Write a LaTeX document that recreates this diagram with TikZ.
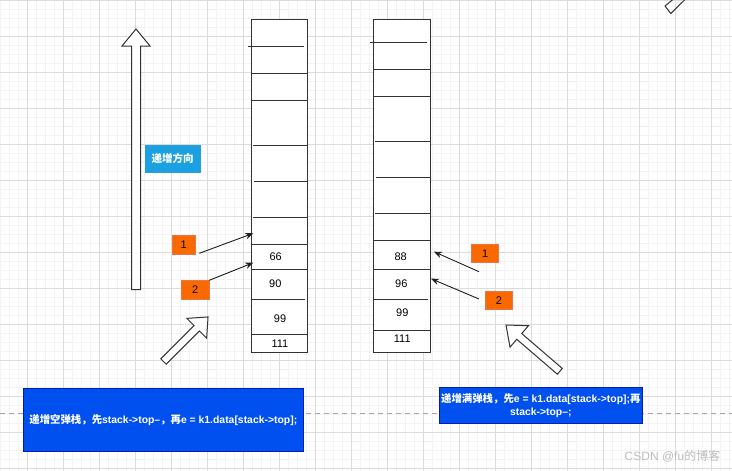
\documentclass[tikz,border=0pt]{standalone}
\usepackage{fontspec}
\setmainfont{Liberation Sans}
\newfontfamily\cjk{Noto Sans CJK SC}
\usetikzlibrary{arrows.meta}

\definecolor{gridmajor}{HTML}{DCDCDC}
\definecolor{gridminor}{HTML}{F3F3F3}
\definecolor{stackgray}{HTML}{333333}
\definecolor{tagfill}{HTML}{FA6800}
\definecolor{tagline}{HTML}{E8764A}
\definecolor{notefill}{HTML}{0050EF}
\definecolor{noteline}{HTML}{001DBC}
\definecolor{dirfill}{HTML}{1BA1E2}
\definecolor{dirline}{HTML}{2A9FD6}
\definecolor{dashgray}{HTML}{A8A8A8}
\definecolor{markgray}{HTML}{BDBDBD}

\begin{document}
\begin{tikzpicture}[x=1pt,y=-1pt,
  every node/.style={inner sep=0pt, outer sep=0pt},
  stackbox/.style={draw=stackgray, fill=white, line width=1pt},
  cellline/.style={draw=stackgray, line width=1pt},
  valtext/.style={font=\fontsize{11}{13}\selectfont},
  tagbox/.style={draw=tagline, fill=tagfill, line width=1pt,
    font=\fontsize{11}{13}\selectfont},
  pointer/.style={-{Stealth[length=8pt,width=6.5pt]}, line width=0.9pt, draw=black!88},
  blockarrow/.style={draw=stackgray, fill=white, line width=1pt, line join=miter},
  notebox/.style={draw=noteline, fill=notefill, text=white, line width=1pt,
    align=center, font=\bfseries\fontsize{10.4}{13.4}\selectfont},
  dirbox/.style={draw=dirline, fill=dirfill, text=white, line width=1pt,
    font=\bfseries\fontsize{10.5}{13}\selectfont}]

\useasboundingbox (0,0) rectangle (732,471);
\fill[white] (0,0) rectangle (732,471);

% background grid
\begin{scope}
  \clip (0,0) rectangle (732,471);
  \foreach \x in {0,9,...,729} \draw[gridminor, line width=1pt] (\x,0) -- (\x,471);
  \foreach \y in {0,9,...,468} \draw[gridminor, line width=1pt] (0,\y) -- (732,\y);
  \foreach \x in {27,63,...,711} \draw[gridmajor, line width=1pt] (\x,0) -- (\x,471);
  \foreach \y in {0,36,...,468} \draw[gridmajor, line width=1pt] (0,\y) -- (732,\y);
\end{scope}

% dashed page break
\draw[dashgray, line width=1pt, dash pattern=on 5pt off 4pt] (0,413.3) -- (732,413.3);

% growth direction arrow
\draw[blockarrow] (131.5,289.5) -- (131.5,46) -- (122,46) -- (136,29) -- (150,46)
  -- (140.5,46) -- (140.5,289.5) -- cycle;
\node[dirbox, minimum width=55pt, minimum height=27pt] (dir) at (172.5,158.5)
  {{\cjk 递增方向}};

% empty-ascending stack
\node[stackbox, minimum width=55.8pt, minimum height=333pt] (lstack) at (279.5,185.8) {};
\draw[cellline] (248,46.7) -- (304,46.7);
\draw[cellline] (251.6,73.3) -- (307.4,73.3);
\draw[cellline] (251.6,100.3) -- (307.4,100.3);
\draw[cellline] (253,145.7) -- (308.4,145.7);
\draw[cellline] (254,181.7) -- (308.4,181.7);
\draw[cellline] (253,217.7) -- (308.4,217.7);
\draw[cellline] (251.6,244.3) -- (307.4,244.3);
\draw[cellline] (251.6,269.3) -- (307.4,269.3);
\draw[cellline] (251.6,299) -- (305,299);
\draw[cellline] (251.6,334.3) -- (308.4,334.3);
\node[valtext] (l66) at (275.7,256.7) {66};
\node[valtext] (l90) at (275.3,284) {90};
\node[valtext] (l99) at (280,318.3) {99};
\node[valtext] (l111) at (280,344) {111};

% full-ascending stack
\node[stackbox, minimum width=56.7pt, minimum height=333pt] (rstack) at (401.9,185.8) {};
\draw[cellline] (370.3,42) -- (426.7,42);
\draw[cellline] (373.5,69.3) -- (430.2,69.3);
\draw[cellline] (373.5,96) -- (430.2,96);
\draw[cellline] (375,141) -- (431,141);
\draw[cellline] (376,177) -- (431,177);
\draw[cellline] (375,213) -- (431,213);
\draw[cellline] (373.5,240) -- (430.2,240);
\draw[cellline] (373.5,269.3) -- (430.2,269.3);
\draw[cellline] (373.5,299) -- (428,299);
\draw[cellline] (373.5,330) -- (430.2,330);
\node[valtext] (r88) at (400.7,256.7) {88};
\node[valtext] (r96) at (401.3,284) {96};
\node[valtext] (r99) at (402.3,312.7) {99};
\node[valtext] (r111) at (402.3,339) {111};

% step tags
\node[tagbox, minimum width=23.3pt, minimum height=18.7pt] (lt1) at (183.7,244.7) {1};
\node[tagbox, minimum width=28pt, minimum height=18.7pt] (lt2) at (195.3,289.7) {2};
\node[tagbox, minimum width=27.3pt, minimum height=18pt] (rt1) at (485.3,253.7) {1};
\node[tagbox, minimum width=27.3pt, minimum height=18.3pt] (rt2) at (499,300.8) {2};

% step pointers
\coordinate (lp1s) at (199.3,253.3);
\coordinate (lp1e) at (253.3,233.3);
\coordinate (lp2s) at (209.3,280.3);
\coordinate (lp2e) at (253.3,262.7);
\coordinate (rp1s) at (479,271.7);
\coordinate (rp1e) at (434,251.7);
\coordinate (rp2s) at (479,299);
\coordinate (rp2e) at (431,278.7);
\draw[pointer] (lp1s) -- (lp1e);
\draw[pointer] (lp2s) -- (lp2e);
\draw[pointer] (rp1s) -- (rp1e);
\draw[pointer] (rp2s) -- (rp2e);

% hollow block arrows
\draw[blockarrow] (160.81,358.81) -- (194.04,325.58) -- (186.83,318.37) -- (208.05,316.95)
  -- (206.63,338.17) -- (199.42,330.96) -- (166.19,364.19) -- cycle;
\draw[blockarrow] (562.28,368.42) -- (521.73,333.54) -- (528.48,325.69) -- (505.98,325.01)
  -- (510.02,347.15) -- (516.77,339.3) -- (557.32,374.18) -- cycle;
\begin{scope}
  \clip (0,0) rectangle (732,471);
  \draw[blockarrow, fill=none] (673.5,-1) -- (665,6) -- (670.8,13.5) -- (685.5,-1);
\end{scope}

% explanations
\node[notebox, minimum width=280pt, minimum height=63.4pt] (lnote) at (163.3,420)
  {{\cjk 递增空弹栈，先}stack->top--{\cjk ，再}e = k1.data[stack->top];};
\node[notebox, minimum width=203pt, minimum height=36pt] (rnote) at (540.8,405.3)
  {{\cjk 递增满弹栈，先}e = k1.data[stack->top];{\cjk 再}\\stack->top--;};

% watermark
\node[text=markgray, font=\fontsize{12}{14}\selectfont] (mark) at (672.5,456.7)
  {CSDN @fu{\cjk 的博客}};
\end{tikzpicture}
\end{document}
